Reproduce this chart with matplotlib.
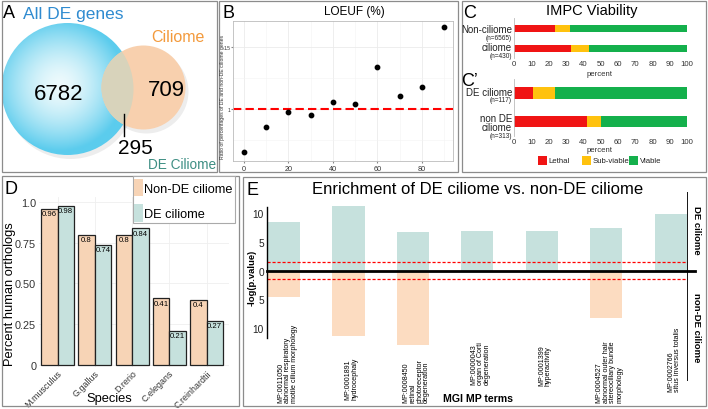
import numpy as np
import matplotlib
matplotlib.use("Agg")
import matplotlib.pyplot as plt
import matplotlib.transforms as mtransforms
from matplotlib.patches import Circle, Rectangle

W, H = 708, 410
plt.rcParams['font.family'] = ['Liberation Sans', 'DejaVu Sans']

# A: venn counts
venn_de_only = 6782
venn_ciliome_only = 709
venn_overlap = 295

# B: LOEUF ratio
loeuf_pct = [0, 10, 20, 30, 40, 50, 60, 70, 80, 90]
loeuf_ratio = [0.653, 0.855, 0.976, 0.952, 1.056, 1.04, 1.34, 1.105, 1.177, 1.66]

# C: IMPC viability (percent)
impc_labels = ["Non-ciliome", "ciliome"]
impc_n = ["(n=6565)", "(n=430)"]
impc_lethal = [23.6, 33.0]
impc_subviable = [8.7, 10.1]
impc_viable = [67.7, 56.9]

impc2_labels = ["DE ciliome", "non DE\nciliome"]
impc2_n = ["(n=117)", "(n=313)"]
impc2_lethal = [10.6, 41.9]
impc2_subviable = [13.0, 8.3]
impc2_viable = [76.4, 49.8]

viab_names = ["Lethal", "Sub-viable", "Viable"]
viab_colors = ['#F01414', '#FFC20E', '#14B04C']

# D: orthologs
species = ["M.musculus", "G.gallus", "D.rerio", "C.elegans", "C.reinhardtii"]
ortho_non_de = [0.96, 0.8, 0.8, 0.41, 0.4]
ortho_de = [0.98, 0.74, 0.84, 0.21, 0.27]

# E: MGI MP enrichment, -log(p)
mp_terms = [
    "MP:0011050\nabnormal respiratory\nmotile cilium morphology",
    "MP:0001891\nhydrocephaly",
    "MP:0008450\nretinal\nphotoreceptor\ndegeneration",
    "MP:0000043\norgan of Corti\ndegeneration",
    "MP:0001399\nhyperactivity",
    "MP:0004527\nabnormal outer hair\nstereociliary bundle\nmorphology",
    "MP:0002766\nsitus inversus totalis",
]
enrich_de = [8.55, 11.34, 6.7, 6.98, 6.98, 7.4, 9.9]
enrich_non_de = [4.54, 11.34, 12.9, 0, 0, 8.3, 0]
label_bottom_px = [403, 400, 403, 385, 386, 403, 392]

peach = '#F7D4B6'
teal = '#C6E1DD'

fig = plt.figure(figsize=(W / 100, H / 100), dpi=100)


def px_axes(x0, y0, x1, y1, **kw):
    return fig.add_axes([x0 / W, 1 - y1 / H, (x1 - x0) / W, (y1 - y0) / H], **kw)


# overlay in pixel coords for boxes and loose text
ov = px_axes(0, 0, W, H, zorder=10)
ov.set_xlim(0, W)
ov.set_ylim(H, 0)
ov.axis('off')
ov.patch.set_alpha(0)

for (x0, y0, x1, y1) in [(2, 2, 217, 173), (219, 2, 458, 173), (462, 2, 706, 173),
                         (2, 177, 239, 407), (243, 178, 706, 407)]:
    ov.add_patch(Rectangle((x0, y0), x1 - x0, y1 - y0, fill=False, ec='#8C8C8C', lw=0.9))

for letter, x, y in [("A", 9, 14), ("B", 228, 14), ("C", 470, 14), ("C\u2019", 469, 81),
                     ("D", 11, 190), ("E", 252, 191)]:
    ov.text(x, y, letter, fontsize=13, ha='center', va='center')

# ---- A: venn
va = px_axes(2, 2, 217, 173)
va.set_xlim(2, 217)
va.set_ylim(173, 2)
va.axis('off')

bc, br = (67.5, 90.0), 66
oc, orad = (143.5, 88.5), 42
va.add_patch(Circle((bc[0] + 3, bc[1] + 4), br, color='k', alpha=0.07, lw=0))
va.add_patch(Circle((oc[0] + 3, oc[1] + 4), orad, color='k', alpha=0.07, lw=0))
blue = Circle(bc, br, fc='none', ec='none')
va.add_patch(blue)
gx = np.linspace(bc[0] - br, bc[0] + br, 200)
gy = np.linspace(bc[1] - br, bc[1] + br, 200)
GX, GY = np.meshgrid(gx, gy)
rr = np.clip(np.hypot(GX - bc[0] + 8, GY - bc[1] + 4) / br, 0, 1)
c0 = np.array([0.93, 0.98, 0.99])
c1 = np.array([0.36, 0.80, 0.93])
img = c0 + (c1 - c0) * (rr[..., None] ** 1.6)
im = va.imshow(img, extent=(gx[0], gx[-1], gy[-1], gy[0]), origin='upper', zorder=2)
im.set_clip_path(blue)
va.add_patch(Circle(oc, orad, fc='#F8D0AE', ec='none', zorder=3))
inter = Circle(oc, orad, fc='#D8D3BB', ec='none', zorder=4)
va.add_patch(inter)
inter.set_clip_path(blue)
va.set_xlim(2, 217)
va.set_ylim(173, 2)

ov.text(73, 15, "All DE genes", color='#2F8BD0', fontsize=12.5, ha='center', va='center')
ov.text(178, 37, "Ciliome", color='#F39A3C', fontsize=11.5, ha='center', va='center')
ov.text(59, 94, f"{venn_de_only}", fontsize=16, ha='center', va='center')
ov.text(166, 91, f"{venn_ciliome_only}", fontsize=16, ha='center', va='center')
ov.text(135, 149, f"{venn_overlap}", fontsize=15, ha='center', va='center')
ov.plot([124, 124], [115, 137], color='k', lw=1)
ov.text(182, 165, "DE Ciliome", color='#3F8F84', fontsize=9.8, ha='center', va='center')

# ---- B: LOEUF
ab = px_axes(233, 22, 453, 162)
ab.scatter(loeuf_pct, loeuf_ratio, s=10, color='k', zorder=3)
ab.axhline(1, color='#FF0000', ls=(0, (4, 2)), lw=1.5, zorder=2)
ab.set_xlim(-4.97, 94.07)
ab.set_ylim(0.581, 1.71)
ab.set_xticks([0, 20, 40, 60, 80])
ab.set_xticks([10, 30, 50, 70, 90], minor=True)
ab.set_yticks([1, 1.5])
ab.set_yticklabels(["1", "1.5"])
ab.set_yticks([0.75, 1.25], minor=True)
ab.grid(which='major', color='#EBEBEB', lw=0.6)
ab.grid(which='minor', color='#F3F3F3', lw=0.4)
ab.set_axisbelow(True)
ab.tick_params(axis='x', labelsize=5.2, length=1.5, pad=1.5, color='#888888', colors='#333333')
ab.tick_params(axis='y', labelsize=3.6, length=1.2, pad=0.4, color='#888888', colors='#333333')
ab.tick_params(which='minor', length=0)
for s in ab.spines.values():
    s.set_color('#BBBBBB')
    s.set_linewidth(0.6)
ov.text(354, 12, "LOEUF (%)", fontsize=8.5, ha='center', va='center')
ov.text(222.3, 97, "Ratio of percentages of DE and non-DE ciliome genes", fontsize=3.7,
        rotation=90, ha='center', va='center', color='#333333')


# ---- C: IMPC viability
def viability(ax, lethal, sub, viab, h):
    pos = np.arange(len(lethal))
    ax.barh(pos, lethal, height=h, color=viab_colors[0])
    ax.barh(pos, sub, left=lethal, height=h, color=viab_colors[1])
    ax.barh(pos, viab, left=np.add(lethal, sub), height=h, color=viab_colors[2])
    ax.set_xlim(0, 100)
    ax.set_ylim(1.5, -0.5)
    ax.set_yticks([])
    ax.set_xticks(range(0, 101, 10))
    ax.tick_params(axis='x', labelsize=5.6, length=0, pad=1.5, colors='#333333')
    for k in ['top', 'right', 'bottom']:
        ax.spines[k].set_visible(False)
    ax.spines['left'].set_color('#BBBBBB')
    ax.spines['left'].set_linewidth(0.6)
    ax.patch.set_alpha(0)


ac1 = px_axes(514.3, 19.3, 687, 59.3)
viability(ac1, impc_lethal, impc_subviable, impc_viable, 0.35)
ac2 = px_axes(514.3, 79.75, 687, 136.75)
viability(ac2, impc2_lethal, impc2_subviable, impc2_viable, 0.42)

ov.text(592, 11, "IMPC Viability", fontsize=10.5, ha='center', va='center')
for lab, n, yl, yn in zip(impc_labels, impc_n, [30, 48], [39, 57]):
    ov.text(512, yl, lab, fontsize=7, ha='right', va='center', color='#222222')
    ov.text(512, yn, n, fontsize=4.7, ha='right', va='center', color='#222222')
for lab, n, yl, yn in zip(impc2_labels, impc2_n, [93.5, 123.5], [101, 137]):
    ov.text(512, yl, lab, fontsize=7, ha='right', va='center', color='#222222',
            linespacing=0.9, multialignment='right')
    ov.text(512, yn, n, fontsize=4.7, ha='right', va='center', color='#222222')
for yy in [74, 151]:
    ov.text(600, yy, "percent", fontsize=5.6, ha='center', va='center', color='#333333')
for name, col, xp in zip(viab_names, viab_colors, [538, 582, 629]):
    ov.add_patch(Rectangle((xp, 157), 9, 9, color=col, lw=0))
    ov.text(xp + 10.5, 161.5, name, fontsize=5.6, ha='left', va='center', color='#222222')

# ---- D: orthologs
ad = px_axes(39, 198, 228.85, 368)
xs = np.arange(1, len(species) + 1)
bw = 0.443
ad.bar(xs - bw / 2, ortho_non_de, width=bw, color=peach, ec='#222222', lw=0.9, zorder=2)
ad.bar(xs + bw / 2, ortho_de, width=bw, color=teal, ec='#222222', lw=0.9, zorder=2)
lab_tr = mtransforms.offset_copy(ad.transData, fig=fig, y=-1.5, units='dots')
for xi, a, b in zip(xs, ortho_non_de, ortho_de):
    ad.text(xi - bw / 2, a, f"{a:g}", fontsize=5.6, ha='center', va='top', transform=lab_tr, zorder=3)
    ad.text(xi + bw / 2, b, f"{b:g}", fontsize=5.6, ha='center', va='top', transform=lab_tr, zorder=3)
ad.set_xlim(0.503, 5.6)
ad.set_ylim(-0.0142, 1.0326)
ad.set_yticks([0, 0.25, 0.5, 0.75, 1.0])
ad.set_yticklabels(["0", "0.25", "0.50", "0.75", "1.0"])
ad.set_xticks(xs)
ad.set_xticklabels(species, rotation=45, ha='right', rotation_mode='anchor')
ad.tick_params(axis='y', labelsize=7.8, length=0, pad=2, colors='#333333')
ad.tick_params(axis='x', labelsize=6.4, length=0, pad=1, colors='#333333')
ad.grid(color='#EFEFEF', lw=0.6)
ad.set_axisbelow(True)
for s in ad.spines.values():
    s.set_visible(False)
ad.patch.set_alpha(0)
ov.text(10, 294, "Percent human orthologs", fontsize=9.3, rotation=90, ha='center', va='center')
ov.text(109, 399, "Species", fontsize=9.3, ha='center', va='center')
ov.add_patch(Rectangle((133, 177), 102, 47, fc='white', ec='#AAAAAA', lw=0.8))
ov.add_patch(Rectangle((134, 180), 8.5, 17, fc=peach, lw=0))
ov.add_patch(Rectangle((134, 205), 8.5, 18, fc=teal, lw=0))
ov.text(144, 190, "Non-DE ciliome", fontsize=9.2, ha='left', va='center')
ov.text(144, 215, "DE ciliome", fontsize=9.2, ha='left', va='center')

# ---- E: enrichment
ae = px_axes(266.7, 193, 688, 382)
ex = np.arange(1, len(mp_terms) + 1)
ae.bar(ex, enrich_de, width=0.5, color=teal, lw=0)
ae.bar(ex, -np.array(enrich_non_de), width=0.5, color='#FCDCC1', lw=0)
ae.set_xlim(0.73, 7.27)
ae.set_ylim(-19.25, 13.73)
for yy in [1.5, -1.5]:
    ae.axhline(yy, color='#FF0000', ls=(0, (2.5, 1.5)), lw=0.9)
ae.axhline(0, xmin=0, xmax=1.0166, color='k', lw=2, clip_on=False)
ae.axvline(7.27, color='k', lw=2)
ae.set_xticks([])
ae.set_yticks([-10, -5, 0, 5, 10])
ae.set_yticklabels(["10", "5", "0", "5", "10"])
ae.tick_params(axis='y', labelsize=7.3, length=0, pad=2, colors='#222222')
for k in ['top', 'right', 'bottom']:
    ae.spines[k].set_visible(False)
ae.spines['left'].set_bounds(-11.7, 11.1)
ae.spines['left'].set_linewidth(1)
ae.patch.set_alpha(0)
lab_tr2 = mtransforms.blended_transform_factory(ae.transData, ov.transData)
for xi, term, yb in zip(ex, mp_terms, label_bottom_px):
    ae.text(xi + 0.05, yb, term, fontsize=5.1, rotation=90, ha='center', va='bottom',
            multialignment='left', linespacing=0.95, transform=lab_tr2, clip_on=False)

ov.text(478, 190, "Enrichment of DE ciliome vs. non-DE ciliome", fontsize=12, ha='center', va='center')
ov.text(252, 278, "-log(p.value)", fontsize=6.8, fontweight='bold', rotation=90, ha='center', va='center')
ov.text(696, 230, "DE ciliome", fontsize=6.8, fontweight='bold', rotation=-90, ha='center', va='center')
ov.text(696, 328, "non-DE ciliome", fontsize=6.8, fontweight='bold', rotation=-90, ha='center', va='center')
ov.text(478, 399, "MGI MP terms", fontsize=7.6, fontweight='bold', ha='center', va='center')

fig.savefig("out.png", dpi=100)
